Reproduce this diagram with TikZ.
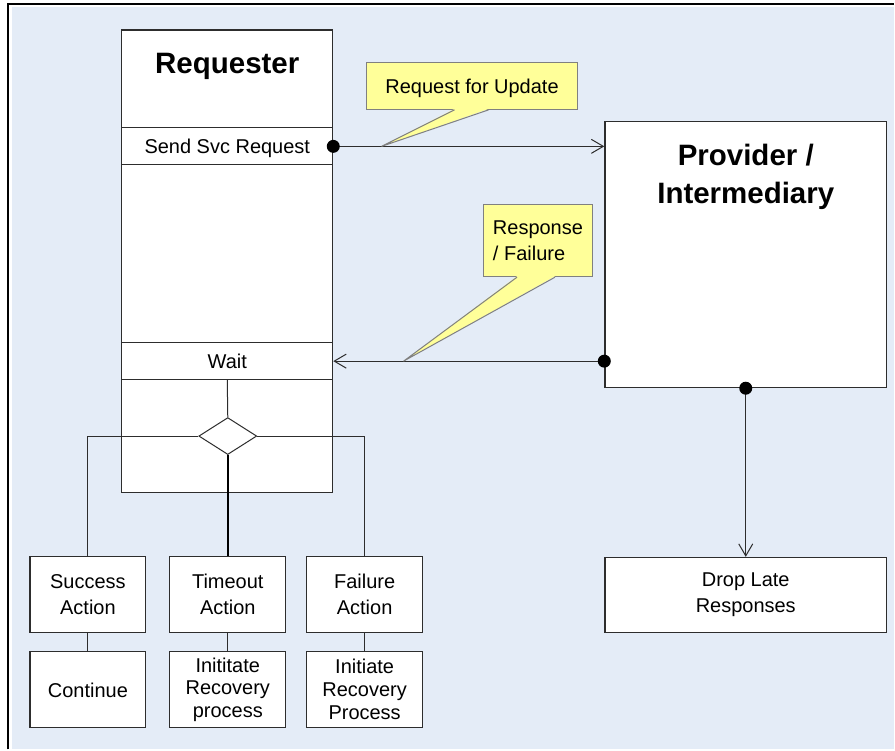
\documentclass[tikz,border=0pt]{standalone}
\usepackage{fontspec}
\setmainfont{Liberation Sans}
\usetikzlibrary{arrows.meta}
\usetikzlibrary{positioning,shapes.geometric}
\definecolor{bgblue}{RGB}{228,236,247}
\definecolor{noteyellow}{RGB}{255,255,153}
\definecolor{linegray}{RGB}{45,45,45}

\begin{document}
\begin{tikzpicture}[x=1pt,y=-1pt,>={Straight Barb[length=12pt,width=14pt]},on grid,
	txt/.style={font=\fontsize{20pt}{25.5pt}\selectfont,align=center},
	box/.style={txt,draw=linegray,line width=1.2pt,fill=white,inner sep=1pt},
	row/.style={box,text depth=0pt,minimum width=211pt,minimum height=37pt},
	act/.style={box,minimum width=116pt,minimum height=76pt},
	head/.style={font=\fontsize{29.5pt}{38pt}\selectfont\bfseries,align=center},
	note/.style={txt,draw=gray,line width=1pt,fill=noteyellow},
	flow/.style={draw=linegray,line width=1pt}]
	% page
	\fill[white] (0,0) rectangle (895,750);
	\fill[bgblue] (12,7) rectangle (895,750);
	\draw[line width=1.8pt] (8,750) -- (8,4) -- (895,4);
	\useasboundingbox (0,0) rectangle (895,750);

	% requester side
	\node[box,minimum width=211pt,minimum height=463pt] (req) at (227.5,261.5) {};
	\node[head,text depth=0pt] (reqtitle) at (227.5,63.5)  {Requester};
	\node[row]            (sendrow)  at (227.5,146.5) {Send Svc Request};
	\node[row]            (waitrow) [below=215pt of sendrow] {Wait};
	\node[diamond,draw=linegray,line width=1pt,fill=white,inner sep=0pt,
	      minimum width=58pt,minimum height=37pt] (dec) at (228,436.5) {};

	\node[act]            (tmo)  at (228,595)          {Timeout\\Action};
	\node[act]            (succ) [left=140pt of tmo]   {Success\\Action};
	\node[act]            (fail) [right=137pt of tmo]  {Failure\\Action};
	\node[act,text depth=0pt] (cont) [below=95.5pt of succ] {Continue};
	\node[act,font=\fontsize{20pt}{23pt}\selectfont] (rec1) [below=95.5pt of tmo]  {Inititate\\Recovery\\process};
	\node[act,font=\fontsize{20pt}{23pt}\selectfont] (rec2) [below=95.5pt of fail] {Initiate\\Recovery\\Process};

	% provider side
	\node[box,minimum width=282pt,minimum height=266pt] (prov) at (746.5,255) {};
	\node[head]           (provtitle) at (746.5,177.5) {Provider /\\Intermediary};
	\node[box,minimum width=282pt,minimum height=75pt] (drop) [below=340.5pt of prov] {Drop Late\\Responses};

	% messages
	\draw[flow,->] (sendrow.east) -- (sendrow.east -| prov.west);
	\draw[flow,->] (waitrow.east -| prov.west) -- (waitrow.east);
	\draw[flow,->] (prov.south) -- (drop.north);
	\fill (sendrow.east) circle (6.5pt);
	\fill (waitrow.east -| prov.west) circle (6.5pt);
	\fill (prov.south) circle (6.5pt);

	% decision
	\draw[flow] (waitrow.south) -- (dec.north);
	\draw[flow] (dec.west) -| (succ.north);
	\draw[flow] (dec.east) -| (fail.north);
	\draw[line width=2.2pt] (dec.south) -- (tmo.north);
	\draw[flow] (succ.south) -- (cont.north);
	\draw[flow] (tmo.south) -- (rec1.north);
	\draw[flow] (fail.south) -- (rec2.north);

	% callouts
	\node[note,text depth=0pt,minimum width=211pt,minimum height=47pt] (reqnote) at (472.5,86) {Request for Update};
	\node[note,minimum width=110pt,minimum height=72pt,align=left] (respnote) at (538.5,241) {Response\\/ Failure};
	\coordinate (reqtip)  at (382,146.5);
	\coordinate (resptip) at (404,361.5);
	\fill[noteyellow] ([xshift=-17.5pt,yshift=1pt]reqnote.south) -- (reqtip) -- ([xshift=16.5pt,yshift=1pt]reqnote.south) -- cycle;
	\draw[gray,line width=1pt] ([xshift=-17.5pt]reqnote.south) -- (reqtip) -- ([xshift=16.5pt]reqnote.south);
	\fill[noteyellow] ([xshift=-21pt,yshift=1pt]respnote.south) -- (resptip) -- ([xshift=17pt,yshift=1pt]respnote.south) -- cycle;
	\draw[gray,line width=1pt] ([xshift=-21pt]respnote.south) -- (resptip) -- ([xshift=17pt]respnote.south);
\end{tikzpicture}
\end{document}
